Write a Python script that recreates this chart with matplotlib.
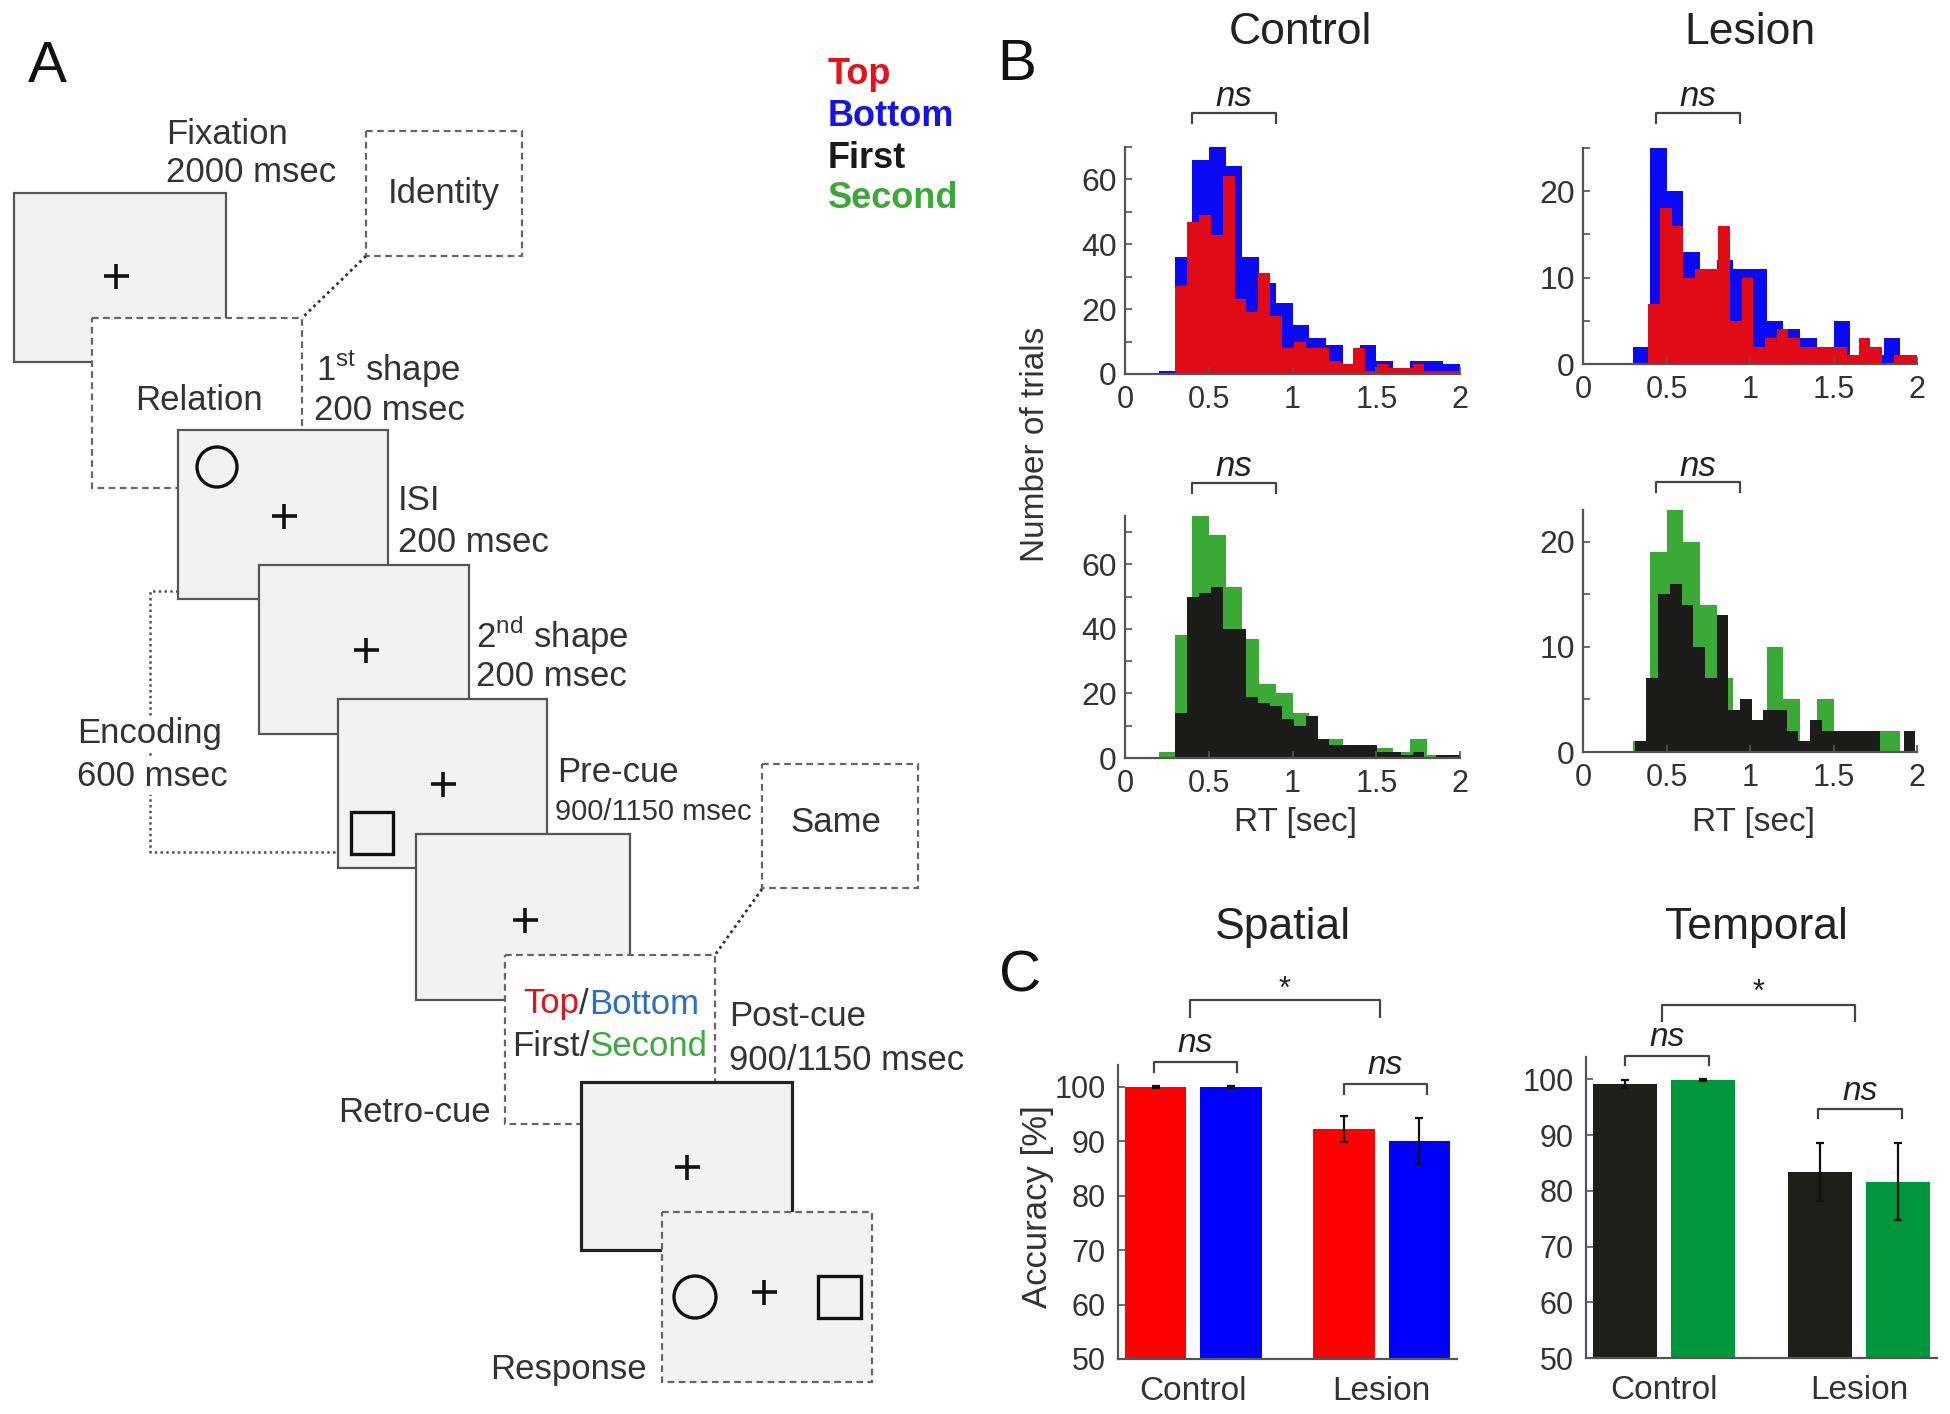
import numpy as np
import matplotlib
matplotlib.use('Agg')
import matplotlib.pyplot as plt
from matplotlib.patches import Rectangle, Circle
from matplotlib import transforms

plt.rcParams['font.family'] = ['Liberation Sans', 'DejaVu Sans']
plt.rcParams['mathtext.fontset'] = 'custom'
plt.rcParams['mathtext.rm'] = 'Liberation Sans'

W, H = 1950, 1414

# ---- panel B: RT histograms (trial counts per bin) ----
bins_01 = np.arange(0, 2.05, 0.1)  # 0.1 s bins, 0..2 s
ctrl_bottom = [0, 0, 1, 36, 66, 72, 64, 36, 28, 22, 15, 11, 9, 3, 9, 4, 2, 4, 4, 3]
ctrl_top = [27, 47, 49, 43, 61, 23, 19, 31, 18, 8, 10, 8, 8, 4, 3, 8, 1, 3, 2, 2, 3, 1, 1, 1]
ctrl_top_edges = np.linspace(0.3, 2.0, 25)
les_bottom = [0, 0, 0, 2, 26, 20, 13, 11, 12, 11, 11, 5, 4, 3, 2, 5, 1, 1, 3, 1]
les_top = [7, 18, 16, 10, 11, 11, 16, 5, 10, 2, 3, 4, 3, 2, 2, 2, 2, 1, 3, 2, 0, 1, 1]
les_top_edges = np.linspace(0.39, 2.0, 24)
ctrl_second = [0, 0, 2, 38, 75, 69, 53, 37, 23, 20, 14, 6, 6, 4, 4, 3, 2, 6, 1, 1]
ctrl_first = [14, 50, 51, 53, 40, 40, 19, 17, 16, 12, 10, 13, 6, 4, 4, 4, 4, 2, 2, 1, 2, 0, 1, 1]
ctrl_first_edges = np.linspace(0.3, 2.0, 25)
les_second = [0, 0, 0, 1, 19, 23, 20, 14, 7, 4, 3, 10, 5, 1, 5, 2, 2, 2, 2, 0]
les_first = [1, 7, 15, 16, 14, 10, 7, 13, 4, 5, 3, 4, 4, 2, 1, 3, 2, 2, 2, 2, 2, 0, 0, 2]
les_first_edges = np.linspace(0.31, 1.99, 25)

rt_ticks = [0, 0.5, 1, 1.5, 2]
rt_ticklabels = ['0', '0.5', '1', '1.5', '2']

# ---- panel C: accuracy (%) ----
groups = ['Control', 'Lesion']
spatial_top = [100, 92.3]
spatial_top_err = [0.2, 2.4]
spatial_bottom = [100, 90.1]
spatial_bottom_err = [0.2, 4.2]
temporal_first = [99.1, 83.4]
temporal_first_err = [0.7, 5.2]
temporal_second = [99.9, 81.6]
temporal_second_err = [0.2, 6.9]

RED_B, BLUE_B, GREEN_B, BLACK_B = '#e10a17', '#0a0af5', '#3aa935', '#1c1c1a'
RED_C, BLUE_C, GREEN_C, BLACK_C = '#ff0000', '#0000ff', '#00963c', '#1e1e1a'
TXT = '#333333'

fig = plt.figure(figsize=(W / 100, H / 100), dpi=100)

ax0 = fig.add_axes([0, 0, 1, 1])
ax0.set_xlim(0, W)
ax0.set_ylim(H, 0)
ax0.axis('off')


def px_rect(l, t, r, b):
    return [l / W, 1 - b / H, (r - l) / W, (b - t) / H]


def style(ax, ysize, xsize):
    for s in ['top', 'right']:
        ax.spines[s].set_visible(False)
    for s in ['left', 'bottom']:
        ax.spines[s].set_color('#555555')
        ax.spines[s].set_linewidth(1.6)
    ax.tick_params(direction='in', length=5, width=1.2, colors='#555555')
    ax.tick_params(axis='y', labelsize=ysize, labelcolor=TXT, pad=6)
    ax.tick_params(axis='x', labelsize=xsize, labelcolor=TXT, pad=8)
    ax.patch.set_alpha(0)


def bracket(ax, x0, x1, y_line, y_tick, y_text, label, size, italic=True):
    tr = transforms.blended_transform_factory(ax.transData, ax0.transData)
    ax.plot([x0, x0, x1, x1], [y_tick, y_line, y_line, y_tick], color='#444444',
            lw=1.6, transform=tr, clip_on=False)
    ax.text((x0 + x1) / 2, y_text, label, transform=tr, ha='center', va='center',
            fontsize=size, style='italic' if italic else 'normal', color='#222222')


def hist_axes(rect, ymax, ticks, labeled):
    ax = fig.add_axes(px_rect(*rect))
    ax.set_xlim(0, 2)
    ax.set_ylim(0, ymax)
    ax.set_xticks(rt_ticks)
    ax.set_xticklabels(rt_ticklabels)
    ax.set_yticks(ticks)
    ax.set_yticklabels([str(t) if t in labeled else '' for t in ticks])
    style(ax, 23, 22)
    return ax


# top row: Top (red) vs Bottom (blue)
ax = hist_axes((1125, 147, 1460, 374), 70, range(0, 71, 10), [0, 20, 40, 60])
ax.stairs(ctrl_bottom, bins_01, fill=True, color=BLUE_B, lw=0)
ax.stairs(ctrl_top, ctrl_top_edges, fill=True, color=RED_B, lw=0)
bracket(ax, 0.4, 0.9, 113, 123, 97, 'ns', 25)

ax = hist_axes((1583, 148, 1917, 364), 25, range(0, 26, 5), [0, 10, 20])
ax.stairs(les_bottom, bins_01, fill=True, color=BLUE_B, lw=0)
ax.stairs(les_top, les_top_edges, fill=True, color=RED_B, lw=0)
bracket(ax, 0.44, 0.94, 113, 123, 97, 'ns', 25)

# bottom row: First (black) vs Second (green)
ax = hist_axes((1125, 516, 1460, 758), 75, range(0, 71, 10), [0, 20, 40, 60])
ax.stairs(ctrl_second, bins_01, fill=True, color=GREEN_B, lw=0)
ax.stairs(ctrl_first, ctrl_first_edges, fill=True, color=BLACK_B, lw=0)
bracket(ax, 0.4, 0.9, 483, 493, 467, 'ns', 25)

ax = hist_axes((1583, 510, 1917, 752), 23, range(0, 21, 5), [0, 10, 20])
ax.stairs(les_second, bins_01, fill=True, color=GREEN_B, lw=0)
ax.stairs(les_first, les_first_edges, fill=True, color=BLACK_B, lw=0)
bracket(ax, 0.44, 0.94, 482, 492, 466, 'ns', 25)


# ---- panel C bars ----
def bar_axes(rect, v1, e1, c1, v2, e2, c2):
    ax = fig.add_axes(px_rect(*rect))
    x = np.arange(1, len(groups) + 1)
    ax.bar(x - 0.2, v1, width=0.325, color=c1)
    ax.bar(x + 0.2, v2, width=0.325, color=c2)
    ax.errorbar(x - 0.2, v1, yerr=e1, fmt='none', ecolor='#111111', elinewidth=1.6, capsize=3, capthick=1.6)
    ax.errorbar(x + 0.2, v2, yerr=e2, fmt='none', ecolor='#111111', elinewidth=1.6, capsize=3, capthick=1.6)
    ax.set_xlim(0.6, 2.4)
    ax.set_ylim(50, 104)
    ax.set_yticks(range(50, 101, 10))
    ax.set_xticks(x)
    ax.set_xticklabels(groups)
    style(ax, 22, 24)
    ax.tick_params(axis='x', length=0, pad=12)
    ax.tick_params(axis='y', pad=9)
    return ax


ax = bar_axes((1118, 1065, 1457, 1359), spatial_top, spatial_top_err, RED_C,
              spatial_bottom, spatial_bottom_err, BLUE_C)
bracket(ax, 0.79, 1.23, 1062, 1072, 1043, 'ns', 24)
bracket(ax, 1.8, 2.24, 1084, 1094, 1066, 'ns', 24)
bracket(ax, 0.98, 1.99, 1000, 1017, 990, '*', 22, italic=False)

ax = bar_axes((1586, 1057, 1937, 1358), temporal_first, temporal_first_err, BLACK_C,
              temporal_second, temporal_second_err, GREEN_C)
bracket(ax, 0.8, 1.23, 1056, 1065, 1038, 'ns', 24)
bracket(ax, 1.79, 2.22, 1109, 1118, 1092, 'ns', 24)
bracket(ax, 0.99, 1.98, 1005, 1021, 993, '*', 22, italic=False)

# ---- panel titles / labels ----
for x, y, s in [(1300, 32, 'Control'), (1750, 32, 'Lesion'), (1283, 928, 'Spatial'), (1756, 928, 'Temporal')]:
    ax0.text(x, y, s, ha='center', va='center', fontsize=32, color='#222222')
for x, y, s in [(47, 67, 'A'), (1017, 65, 'B'), (1020, 976, 'C')]:
    ax0.text(x, y, s, ha='center', va='center', fontsize=42, color='#111111')
ax0.text(1035, 444, 'Number of trials', rotation=90, ha='center', va='center', fontsize=24, color=TXT)
ax0.text(1037, 1207, 'Accuracy [%]', rotation=90, ha='center', va='center', fontsize=25, color=TXT)
ax0.text(1296, 822, 'RT [sec]', ha='center', va='center', fontsize=24, color=TXT)
ax0.text(1753, 822, 'RT [sec]', ha='center', va='center', fontsize=24, color=TXT)

for y, s, c in [(75, 'Top', '#e8101a'), (116, 'Bottom', '#1414e6'), (158, 'First', '#1a1a1a'), (199, 'Second', '#3aa935')]:
    ax0.text(828, y, s, ha='left', va='center', fontsize=26, fontweight='bold', color=c)

# ---- panel A: task schematic ----
DASH = (0, (3, 2))


def box(l, t, r, b, z, dashed=False, fill='#f2f2f2', ec='#555555', lw=1.6):
    ax0.add_patch(Rectangle((l, t), r - l, b - t, facecolor=fill, edgecolor=ec, lw=lw,
                            linestyle=DASH if dashed else '-', zorder=z))


def cross(x, y, z):
    ax0.plot([x], [y], marker='+', ms=18, mew=2.6, color='#111111', zorder=z)


box(14, 193, 226, 362, 1)
cross(116, 276, 1.1)
box(366, 131, 522, 256, 1, dashed=True, fill='white', ec='#666666')
box(92, 318, 302, 488, 2, dashed=True, fill='white', ec='#666666')
box(178, 430, 388, 599, 3)
ax0.add_patch(Circle((217, 467), 20, facecolor='none', edgecolor='#111111', lw=2.4, zorder=3.1))
cross(284, 516, 3.1)
box(259, 565, 469, 734, 4)
cross(366, 650, 4.1)
box(338, 699, 547, 868, 5)
ax0.add_patch(Rectangle((351, 812), 42, 42, facecolor='none', edgecolor='#111111', lw=2.4, zorder=5.1))
cross(443, 784, 5.1)
box(416, 834, 630, 1000, 6)
cross(525, 920, 6.1)
box(762, 764, 918, 888, 6, dashed=True, fill='white', ec='#666666')
box(505, 955, 715, 1124, 7, dashed=True, fill='white', ec='#666666')
box(581, 1082, 792, 1250, 8, ec='#222222', lw=2.3)
cross(687, 1167, 8.1)
box(662, 1212, 872, 1382, 9, dashed=True, fill='#f2f2f2', ec='#666666')
ax0.add_patch(Circle((695, 1297), 21, facecolor='none', edgecolor='#111111', lw=2.4, zorder=9.1))
cross(764, 1292, 9.1)
ax0.add_patch(Rectangle((818, 1276), 43, 42, facecolor='none', edgecolor='#111111', lw=2.4, zorder=9.1))

DOT = (0, (1, 1.3))
ax0.plot([366, 302], [256, 318], color='#333333', lw=2, linestyle=DOT, zorder=10)
ax0.plot([762, 715], [889, 955], color='#333333', lw=2, linestyle=DOT, zorder=10)
ax0.plot([178, 150, 150, 337], [591, 591, 852, 852], color='#555555', lw=1.8, linestyle=DOT, zorder=0.5)

labels_A = [
    (166, 135, 'Fixation', 'left', 25), (166, 172, '2000 msec', 'left', 25),
    (316, 369, r'1$^{\mathrm{st}}$ shape', 'left', 25), (314, 410, '200 msec', 'left', 25),
    (398, 500, 'ISI', 'left', 25), (398, 543, '200 msec', 'left', 25),
    (476, 635, r'2$^{\mathrm{nd}}$ shape', 'left', 25), (476, 676, '200 msec', 'left', 25),
    (557, 773, 'Pre-cue', 'left', 25), (555, 812, '900/1150 msec', 'left', 21),
    (729, 1017, 'Post-cue', 'left', 25), (729, 1060, '900/1150 msec', 'left', 25),
    (491, 1112, 'Retro-cue', 'right', 25), (647, 1369, 'Response', 'right', 25),
    (444, 194, 'Identity', 'center', 25), (199, 400, 'Relation', 'center', 25),
    (836, 822, 'Same', 'center', 25),
]
for x, y, s, ha, fs in labels_A:
    ax0.text(x, y, s, ha=ha, va='center', fontsize=fs, color=TXT, zorder=12)

# encoding label sits on top of the dotted bracket
for y, s in [(734, 'Encoding'), (777, '600 msec')]:
    ax0.text(77, y, s, ha='left', va='center', fontsize=25, color=TXT, zorder=12,
             bbox=dict(facecolor='white', edgecolor='none', pad=1))


def multicolor(x, y, parts, fs):
    t = ax0.text(x, y, parts[0][0], color=parts[0][1], ha='left', va='center', fontsize=fs, zorder=12)
    for s, c in parts[1:]:
        t = ax0.annotate(s, xy=(1, 0), xycoords=t, ha='left', va='bottom', color=c, fontsize=fs, zorder=12)


multicolor(523, 1004, [('Top', '#e3121b'), ('/', TXT), ('Bottom', '#2a6fc0')], 25)
multicolor(512, 1047, [('First', TXT), ('/', TXT), ('Second', '#3cab3c')], 25)

fig.savefig('out.png', dpi=100)
